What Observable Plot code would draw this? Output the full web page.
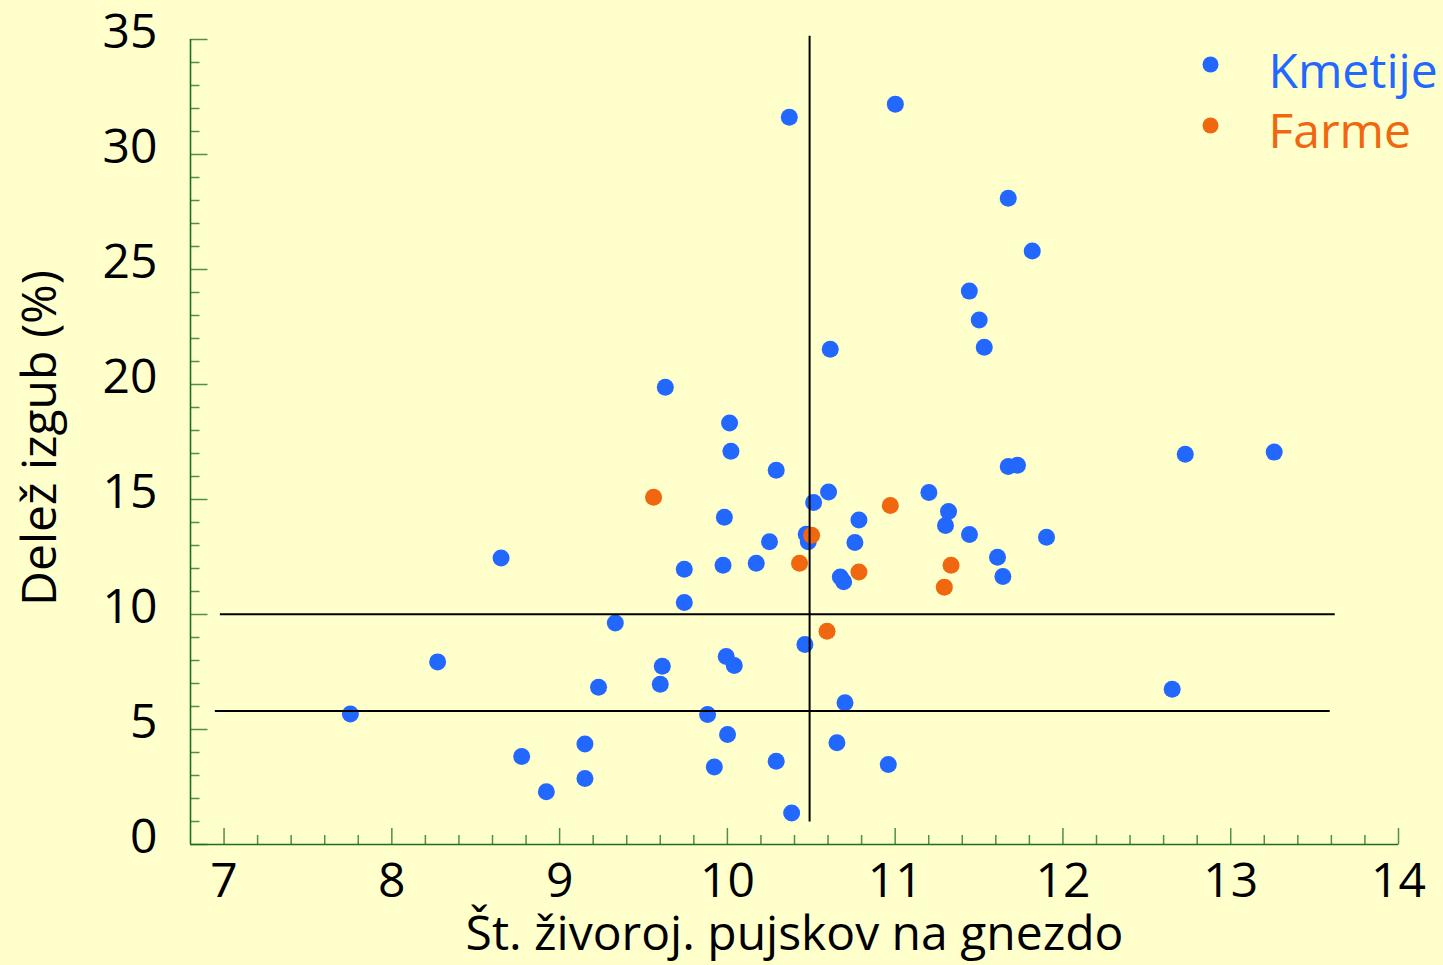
<!DOCTYPE html>
<html>
<head>
<meta charset="utf-8">
<script src="https://cdn.jsdelivr.net/npm/d3@7"></script>
<script src="https://cdn.jsdelivr.net/npm/@observablehq/plot@0.6"></script>
<style>
  html, body { margin: 0; padding: 0; background: #FFFFCC; }
  #chart svg { display: block; }
</style>
</head>
<body>
<div id="chart"></div>
<script>
// ---- Data ----
const kmetijeX = [7.753, 8.273, 8.651, 8.774, 8.921, 9.151, 9.151, 9.232, 9.332, 9.600,
  9.612, 9.630, 9.743, 9.743, 9.882, 9.922, 9.974, 9.982, 9.993, 10.001,
  10.013, 10.021, 10.041, 10.172, 10.251, 10.291, 10.291, 10.369, 10.383, 10.462,
  10.470, 10.482, 10.514, 10.603, 10.613, 10.653, 10.673, 10.693, 10.701, 10.760,
  10.784, 10.959, 11.001, 11.201, 11.300, 11.318, 11.442, 11.443, 11.501, 11.531,
  11.610, 11.642, 11.674, 11.674, 11.729, 11.817, 11.902, 12.651, 12.729, 13.259];
const kmetijeY = [5.67, 7.94, 12.46, 3.83, 2.29, 4.37, 2.87, 6.84, 9.63, 6.97,
  7.75, 19.88, 11.97, 10.52, 5.65, 3.37, 12.14, 14.23, 8.17, 4.78,
  18.33, 17.10, 7.78, 12.23, 13.16, 3.62, 16.27, 31.62, 1.37, 8.70,
  13.49, 13.16, 14.87, 15.33, 21.53, 4.42, 11.63, 11.42, 6.16, 13.13,
  14.11, 3.48, 32.19, 15.30, 13.87, 14.48, 24.06, 13.48, 22.80, 21.62,
  12.49, 11.65, 28.10, 16.43, 16.49, 25.80, 13.36, 6.75, 16.97, 17.06];
const farmeX = [9.560, 10.430, 10.502, 10.594, 10.784, 10.971, 11.293, 11.333];
const farmeY = [15.10, 12.23, 13.45, 9.27, 11.85, 14.74, 11.19, 12.14];

const seriesNames = ["Kmetije", "Farme"];
const seriesColors = ["#2268FF", "#F0670F"];

// reference lines
const vLineX = [10.49];
const vLineY1 = 0.98, vLineY2 = 35.14;
const hLineY = [10.01, 5.80];
const hLineX1 = [6.978, 6.948];
const hLineX2 = [13.623, 13.593];

// axes
const xDomain = [6.8, 14];
const yDomain = [0, 35];
const xTicks = [7, 8, 9, 10, 11, 12, 13, 14];
const yTicks = [0, 5, 10, 15, 20, 25, 30, 35];
const xMinor = d3.range(7, 14.0001, 0.2).map(v => +v.toFixed(1)).filter(v => !xTicks.includes(v));
const yMinor = d3.range(0, 36, 1).filter(v => !yTicks.includes(v));

const xTitle = "Št. živoroj. pujskov na gnezdo";
const yTitle = "Delež izgub (%)";

// ---- build ----
const kmetije = kmetijeX.map((x, i) => ({x, y: kmetijeY[i]}));
const farme = farmeX.map((x, i) => ({x, y: farmeY[i]}));
const hLines = hLineY.map((y, i) => ({y, x1: hLineX1[i], x2: hLineX2[i]}));

const axisGreen = "#1E6E1E";
const minorGreen = "#4E8E4E";
const tickUp = len => ({draw(ctx) { ctx.moveTo(0, 0); ctx.lineTo(0, -len); }});
const tickRight = len => ({draw(ctx) { ctx.moveTo(0, 0); ctx.lineTo(len, 0); }});
const font = "'Open Sans', sans-serif";

const chart = Plot.plot({
  width: 1443,
  height: 965,
  marginLeft: 190,
  marginRight: 45,
  marginTop: 39,
  marginBottom: 121,
  x: {domain: xDomain},
  y: {domain: yDomain},
  style: {background: "#FFFFCC", fontFamily: font, color: "black", overflow: "visible"},
  marks: [
    // axis tick labels
    Plot.axisX({ticks: xTicks, tickSize: 0, tickPadding: 18, fontSize: 48, label: null, tickFormat: d => String(d)}),
    Plot.axisY({ticks: yTicks, tickSize: 0, tickPadding: 33, fontSize: 48, dy: -7, label: null, tickFormat: d => String(d)}),
    // ticks
    Plot.dot(xMinor, {x: d => d, y: () => 0, symbol: tickUp(9.5), fill: "none", stroke: minorGreen, strokeWidth: 1.5}),
    Plot.dot(xTicks, {x: d => d, y: () => 0, symbol: tickUp(16.5), fill: "none", stroke: minorGreen, strokeWidth: 1.5}),
    Plot.dot(yMinor, {x: () => xDomain[0], y: d => d, symbol: tickRight(9), fill: "none", stroke: minorGreen, strokeWidth: 1.5}),
    Plot.dot(yTicks, {x: () => xDomain[0], y: d => d, symbol: tickRight(17), fill: "none", stroke: minorGreen, strokeWidth: 1.5}),
    // axis lines
    Plot.ruleY([yDomain[0]], {x1: xDomain[0], x2: xDomain[1], stroke: axisGreen, strokeWidth: 1.6}),
    Plot.ruleX([xDomain[0]], {y1: yDomain[0], y2: yDomain[1], stroke: axisGreen, strokeWidth: 1.6}),
    // data
    Plot.dot(kmetije, {x: "x", y: "y", r: 8.5, fill: seriesColors[0], stroke: null}),
    Plot.dot(farme, {x: "x", y: "y", r: 8.5, fill: seriesColors[1], stroke: null}),
    // reference lines
    Plot.ruleX(vLineX, {x: d => d, y1: vLineY1, y2: vLineY2, stroke: "black", strokeWidth: 2}),
    Plot.ruleY(hLines, {y: "y", x1: "x1", x2: "x2", stroke: "black", strokeWidth: 2}),
    // axis titles
    Plot.text([yTitle], {text: d => d, frameAnchor: "left", dx: -150, dy: -4, rotate: -90, textAnchor: "middle", lineAnchor: "middle", fontSize: 48, fill: "black"}),
    Plot.text([xTitle], {text: d => d, frameAnchor: "bottom", dy: 90, textAnchor: "middle", lineAnchor: "middle", fontSize: 48, fill: "black"}),
    // legend
    Plot.dot([seriesNames[0]], {frameAnchor: "top-right", dx: -188, dy: 25, r: 8, fill: seriesColors[0], stroke: null}),
    Plot.text([seriesNames[0]], {text: d => d, frameAnchor: "top-right", dx: -130, dy: 33, textAnchor: "start", lineAnchor: "middle", fontSize: 48, fill: seriesColors[0]}),
    Plot.dot([seriesNames[1]], {frameAnchor: "top-right", dx: -188, dy: 86, r: 8, fill: seriesColors[1], stroke: null}),
    Plot.text([seriesNames[1]], {text: d => d, frameAnchor: "top-right", dx: -130, dy: 93, textAnchor: "start", lineAnchor: "middle", fontSize: 48, fill: seriesColors[1]})
  ]
});
document.getElementById("chart").appendChild(chart);
</script>
</body>
</html>
